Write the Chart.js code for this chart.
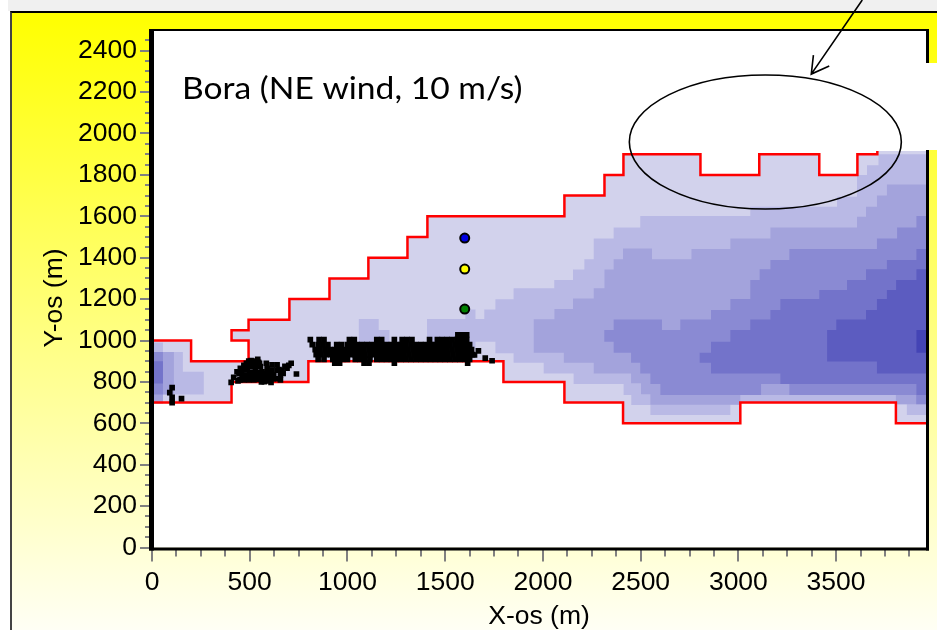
<!DOCTYPE html>
<html>
<head>
<meta charset="utf-8">
<title>Bora</title>
<script src="https://cdn.jsdelivr.net/npm/chart.js@4"></script>
<style>
  html, body { margin: 0; padding: 0; width: 937px; height: 630px; overflow: hidden; background: #fff; }
  #strip { position: absolute; left: 8px; top: 0; width: 929px; height: 11px; background: #f0f0f0; }
  #panel {
    position: absolute; left: 10px; top: 11px; width: 927px; height: 619px; box-sizing: border-box;
    border-top: 2px solid #000; border-left: 2px solid #444;
    background: linear-gradient(#ffff00, #ffff4c 30%, #fffff5);
  }
  canvas { position: absolute; left: 0; top: 0; }
</style>
</head>
<body>
<div id="strip"></div>
<div id="panel"></div>
<canvas id="chart" width="937" height="630"></canvas>
<script>
// axis setup
const xMax = 3960;
const yMax = 2500;
const xLabelEvery = 500;
const yLabelEvery = 200;

// red domain outline
const redUpper = [[0,1000],[200,1000],[200,900],[494,900],[494,1000],[407,1000],[407,1050],[494,1050],[494,1100],[703,1100],[703,1200],[908,1200],[908,1300],[1107,1300],[1107,1400],[1307,1400],[1307,1500],[1409,1500],[1409,1600],[2110,1600],[2110,1700],[2315,1700],[2315,1800],[2412,1800],[2412,1900],[2806,1900],[2806,1800],[3107,1800],[3107,1900],[3414,1900],[3414,1800],[3609,1800],[3609,1900],[3711,1900],[3711,1915]];
const redLower = [[0,700],[407,700],[407,800],[800,800],[800,900],[1798,900],[1798,800],[2110,800],[2110,700],[2410,700],[2410,600],[3010,600],[3010,700],[3806,700],[3806,600],[3960,600]];

// wind speed bands, each one painted over the lighter one
const level1 = [...redUpper, [3960,1915], [3960,600], ...redLower.slice().reverse()];
const level2 = [[3960,1900],[3717,1900],[3717,1847],[3658,1847],[3658,1799],[3607,1799],[3607,1695],[3505,1695],[3505,1646],[3061,1646],[3061,1601],[2498,1601],[2498,1546],[2362,1546],[2362,1493],[2260,1493],[2260,1393],[2212,1393],[2212,1343],[2154,1343],[2154,1292],[2058,1292],[2058,1252],[1850,1252],[1850,1199],[1757,1199],[1757,1150],[1700,1150],[1700,1104],[1655,1104],[1655,1150],[1603,1150],[1603,1104],[1407,1104],[1407,960],[1655,960],[1655,994],[1757,994],[1757,938],[1850,938],[1850,893],[2004,893],[2004,841],[2157,841],[2157,790],[2413,790],[2413,737],[2452,737],[2452,689],[2550,689],[2550,640],[2959,640],[2959,692],[3010,692],[3010,700],[3806,700],[3806,692],[3862,692],[3862,640],[3960,640]];
const level2Patch = [[1058,1104],[1160,1104],[1160,1051],[1215,1051],[1215,960],[1058,960]];
const level2West = [[0,990],[56,990],[56,945],[158,945],[158,849],[265,849],[265,739],[56,739],[56,700],[0,700]];
const level3 = [[3960,1754],[3760,1754],[3760,1700],[3709,1700],[3709,1646],[3653,1646],[3653,1598],[3607,1598],[3607,1546],[3164,1546],[3164,1493],[2959,1493],[2959,1442],[2760,1442],[2760,1392],[2558,1392],[2558,1445],[2410,1445],[2410,1392],[2362,1392],[2362,1343],[2315,1343],[2315,1252],[2260,1252],[2260,1203],[2154,1203],[2154,1152],[2059,1152],[2059,1103],[1953,1103],[1953,941],[2107,941],[2107,893],[2260,893],[2260,841],[2451,841],[2451,793],[2502,793],[2502,740],[2550,740],[2550,690],[3010,690],[3010,737],[3806,737],[3806,692],[3960,692]];
const level3West = [[0,945],[112,945],[112,739],[56,739],[56,696],[0,696]];
const level4 = [[3960,1601],[3911,1601],[3911,1546],[3812,1546],[3812,1493],[3709,1493],[3709,1442],[3261,1442],[3261,1389],[3164,1389],[3164,1344],[3109,1344],[3109,1292],[3061,1292],[3061,1200],[2959,1200],[2959,1147],[2860,1147],[2860,1102],[2703,1102],[2703,1051],[2609,1051],[2609,1102],[2362,1102],[2362,1051],[2314,1051],[2314,994],[2362,994],[2362,941],[2451,941],[2451,893],[2498,893],[2498,841],[2550,841],[2550,790],[2601,790],[2601,737],[3116,737],[3116,790],[3261,790],[3261,737],[3910,737],[3910,692],[3960,692]];
const level4West = [[0,945],[56,945],[56,739],[0,739]];
const level5 = [[3960,1442],[3911,1442],[3911,1389],[3760,1389],[3760,1344],[3653,1344],[3653,1292],[3556,1292],[3556,1244],[3414,1244],[3414,1200],[3215,1200],[3215,1147],[3164,1147],[3164,1102],[3061,1102],[3061,1051],[2959,1051],[2959,994],[2860,994],[2860,941],[2802,941],[2802,893],[2860,893],[2860,841],[3215,841],[3215,790],[3911,790],[3911,737],[3960,737]];
const level5West = [[0,900],[56,900],[56,792],[0,792]];
const level6 = [[3960,1344],[3911,1344],[3911,1292],[3807,1292],[3807,1244],[3760,1244],[3760,1200],[3709,1200],[3709,1147],[3653,1147],[3653,1102],[3501,1102],[3501,1051],[3454,1051],[3454,898],[3709,898],[3709,841],[3960,841]];
const level7 = [[3960,1051],[3911,1051],[3911,941],[3960,941]];

// three measuring stations
const stations = [[1600,1495],[1600,1345],[1600,1152]];

// black pebble cloud, one list per row for the dense part
const cloudRow1028 = [1565,1590,1610];
const cloudRow1004 = [810,855,880,1010,1035,1150,1175,1240,1280,1305,1330,1420,1460,1485,1510,1535,1560,1585,1610];
const cloudRow980 = [820,850,875,900,945,970,1000,1025,1050,1075,1100,1125,1150,1175,1200,1225,1250,1275,1300,1325,1350,1375,1400,1425,1450,1475,1500,1525,1550,1575,1600,1625];
const cloudRow956 = [835,860,885,910,935,960,985,1010,1035,1060,1085,1110,1135,1160,1185,1210,1235,1260,1285,1310,1335,1360,1385,1410,1435,1460,1485,1510,1535,1560,1585,1610,1635];
const cloudRow932 = [840,865,890,915,940,965,990,1015,1040,1065,1090,1115,1140,1165,1190,1215,1240,1265,1290,1315,1340,1365,1390,1415,1440,1465,1490,1515,1540,1565,1590,1615,1640];
const cloudRow908 = [850,880,925,950,975,1000,1040,1065,1090,1115,1150,1175,1200,1225,1250,1275,1300,1325,1350,1375,1400,1425,1450,1475,1500,1525,1550,1575,1600,1625];
const cloudRow891 = [935,960,1085,1110,1240,1615];
const cloudLoose = [[1670,950],[1650,930],[1705,915],[1740,902]];
const cloudMiddle = [[405,798],[418,822],[435,849],[452,866],[483,890],[507,903],[541,909],[512,874],[487,858],[529,858],[555,874],[585,890],[589,866],[614,882],[640,882],[712,890],[691,866],[671,841],[739,838],[470,809],[495,809],[521,809],[546,812],[575,801],[609,798],[657,809],[623,833],[640,857],[657,833],[529,833],[555,833],[580,841],[597,825],[504,833],[478,833],[572,817],[614,857],[563,849],[461,825],[445,840],[460,850],[470,860],[500,845],[515,845],[540,845],[470,880],[495,880],[520,890],[535,885],[550,890],[495,900],[520,900],[545,895],[600,845],[620,815],[640,815],[600,810],[560,800],[590,805],[510,820],[535,820],[560,825],[450,810],[440,805],[480,820],[650,860],[665,855],[680,875],[700,880]];
const cloudWest = [[103,772],[91,748],[103,725],[103,700],[151,719]];

const rows = [[1028,cloudRow1028],[1004,cloudRow1004],[980,cloudRow980],[956,cloudRow956],[932,cloudRow932],[908,cloudRow908],[891,cloudRow891]];
const cloud = rows.flatMap(([y, xs]) => xs.map((x) => [x, y])).concat(cloudLoose, cloudMiddle, cloudWest);

const toPoints = (list) => list.map(([x, y]) => ({ x, y }));

function band(list, color, order) {
  return { data: toPoints(list), showLine: true, fill: "shape", backgroundColor: color, borderWidth: 0, pointRadius: 0, tension: 0, order };
}

function outline(list) {
  return { data: toPoints(list), showLine: true, fill: false, borderColor: "#ff0000", borderWidth: 2.5, pointRadius: 0, tension: 0, order: 3 };
}

function station(point, color) {
  return { data: toPoints([point]), showLine: false, backgroundColor: color, borderColor: "#000", borderWidth: 2, pointRadius: 4.5, order: 1 };
}

// frame, ticks, notes and the marked ellipse
const extras = {
  id: "extras",
  beforeDraw(chart) {
    const { ctx, chartArea: a } = chart;
    ctx.fillStyle = "#fff";
    ctx.fillRect(a.left, a.top, a.right - a.left, a.bottom - a.top);
  },
  afterDraw(chart) {
    const { ctx, chartArea: a, scales: { x, y } } = chart;
    ctx.save();

    // ticks
    ctx.strokeStyle = "#808080";
    ctx.lineWidth = 2;
    ctx.beginPath();
    x.ticks.forEach((t) => {
      const px = Math.round(x.getPixelForValue(t.value));
      ctx.moveTo(px, a.bottom + 2);
      ctx.lineTo(px, a.bottom + (t.value % xLabelEvery === 0 ? 14 : 9));
    });
    y.ticks.forEach((t) => {
      if (t.value >= yMax) return;
      const py = Math.round(y.getPixelForValue(t.value));
      ctx.moveTo(a.left - 2, py);
      ctx.lineTo(a.left - (t.value % yLabelEvery === 0 ? 12 : 7), py);
    });
    ctx.stroke();

    // plot frame
    ctx.fillStyle = "#000";
    ctx.fillRect(a.left - 3, a.top - 1, 5, a.bottom - a.top + 4);
    ctx.fillRect(a.left - 3, a.bottom, a.right - a.left + 6, 3);
    ctx.fillRect(a.left - 3, a.top - 1, a.right - a.left + 6, 2);
    ctx.fillRect(a.right, a.top - 1, 3, a.bottom - a.top + 4);

    // white patch pasted over the right edge
    ctx.fillStyle = "#fff";
    ctx.fillRect(a.right - 1, 63, 13, 87);

    // texts
    ctx.fillStyle = "#000";
    ctx.textBaseline = "alphabetic";
    ctx.textAlign = "left";
    ctx.save();
    ctx.translate(182, 99);
    ctx.scale(1.12, 1);
    ctx.font = "30px Lato";
    ctx.fillText("Bora (NE wind, 10 m/s)", 0, 0);
    ctx.restore();

    ctx.save();
    ctx.translate(62, 298);
    ctx.rotate(-Math.PI / 2);
    ctx.textAlign = "center";
    ctx.font = "26.5px 'Liberation Sans'";
    ctx.fillText("Y-os (m)", 0, 0);
    ctx.restore();

    // ellipse and arrow
    ctx.strokeStyle = "#000";
    ctx.lineWidth = 1.6;
    ctx.beginPath();
    ctx.ellipse(x.getPixelForValue(3138), y.getPixelForValue(1959), 136, 67, 0, 0, Math.PI * 2);
    ctx.stroke();

    const tip = [x.getPixelForValue(3373), y.getPixelForValue(2287)];
    ctx.beginPath();
    ctx.moveTo(x.getPixelForValue(3634), y.getPixelForValue(2645));
    ctx.lineTo(tip[0], tip[1]);
    ctx.moveTo(x.getPixelForValue(3384), y.getPixelForValue(2379));
    ctx.lineTo(tip[0], tip[1]);
    ctx.lineTo(x.getPixelForValue(3465), y.getPixelForValue(2326));
    ctx.stroke();

    ctx.restore();
  },
};

new Chart(document.getElementById("chart"), {
  type: "scatter",
  plugins: [extras],
  data: {
    datasets: [
      { data: toPoints(cloud), showLine: false, pointStyle: "rect", backgroundColor: "#000", borderWidth: 0, pointRadius: 4, order: 2 },
      station(stations[0], "#0000e0"),
      station(stations[1], "#ffff00"),
      station(stations[2], "#008000"),
      outline(redUpper),
      outline(redLower),
      band(level7, "#4444b5", 4),
      band(level6, "#5c5cc0", 5),
      band(level5, "#7373ca", 6),
      band(level5West, "#7373ca", 6),
      band(level4, "#8a8ad3", 7),
      band(level4West, "#8a8ad3", 7),
      band(level3, "#a3a3dc", 8),
      band(level3West, "#a3a3dc", 8),
      band(level2, "#b9b9e5", 9),
      band(level2Patch, "#b9b9e5", 9),
      band(level2West, "#b9b9e5", 9),
      band(level1, "#d2d2ec", 10),
    ],
  },
  options: {
    responsive: false,
    animation: false,
    layout: { padding: { left: 0, top: 30, right: 11, bottom: 0 } },
    plugins: { legend: { display: false }, tooltip: { enabled: false } },
    scales: {
      x: {
        type: "linear",
        min: 0,
        max: xMax,
        afterFit(axis) { axis.height = 82.5; },
        grid: { display: false },
        border: { display: false },
        title: { display: true, text: "X-os (m)", color: "#000", font: { family: "Liberation Sans", size: 26.5, lineHeight: 1 }, padding: { top: 0, bottom: 0 } },
        ticks: {
          stepSize: 125,
          includeBounds: false,
          autoSkip: false,
          maxRotation: 0,
          color: "#000",
          padding: 11,
          font: { family: "Liberation Sans", size: 26.5 },
          callback: (v) => (v % xLabelEvery === 0 ? String(v) : ""),
        },
      },
      y: {
        type: "linear",
        min: 0,
        max: yMax,
        afterFit(axis) { axis.width = 152; },
        grid: { display: false },
        border: { display: false },
        ticks: {
          stepSize: 50,
          autoSkip: false,
          color: "#000",
          padding: 7,
          font: { family: "Liberation Sans", size: 26.5 },
          callback: (v) => (v % yLabelEvery === 0 ? String(v) : ""),
        },
      },
    },
  },
});
</script>
</body>
</html>
